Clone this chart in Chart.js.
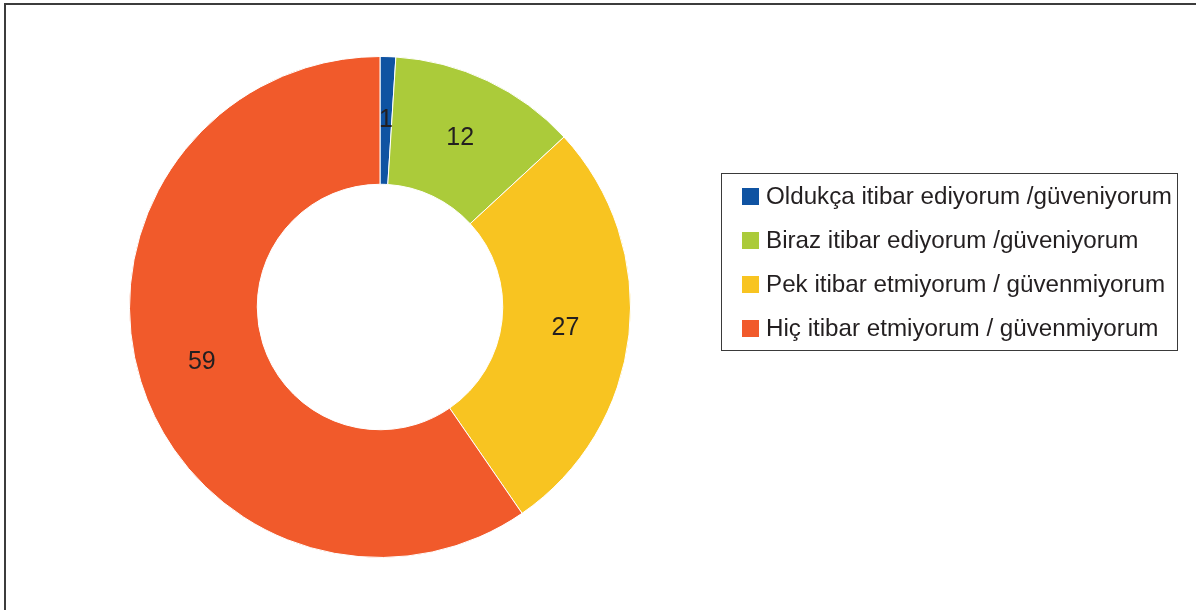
<!DOCTYPE html>
<html>
<head>
<meta charset="utf-8">
<script src="https://cdn.jsdelivr.net/npm/chart.js@4/dist/chart.umd.min.js"></script>
<style>
  html, body { margin: 0; padding: 0; background: #fff; }
  #wrap { position: relative; width: 1196px; height: 610px; overflow: hidden; }
  #frame { position: absolute; left: 4px; top: 3px; right: -10px; bottom: -10px;
           border-top: 2px solid #3c3c3c; border-left: 2px solid #3c3c3c; }
  #legend { position: absolute; left: 721px; top: 173px; width: 455px; height: 176px;
            border: 1.5px solid #3a3a3a; box-sizing: content-box;
            font-family: "Liberation Sans", Arial, sans-serif; font-size: 24.2px; color: #231f20; }
  #legend .item { position: absolute; left: 20px; display: flex; align-items: center; white-space: nowrap; }
  #legend .sw { width: 17px; height: 17px; margin-right: 7px; }
  canvas { position: absolute; left: 0; top: 0; }
</style>
</head>
<body>
<div id="wrap">
  <canvas id="pie" width="1196" height="610"></canvas>
  <div id="frame"></div>
  <div id="legend"></div>
</div>
<script>
const categories = [
    'Oldukça itibar ediyorum /güveniyorum',
    'Biraz itibar ediyorum /güveniyorum',
    'Pek itibar etmiyorum / güvenmiyorum',
    'Hiç itibar etmiyorum / güvenmiyorum',
];
const values = [1, 12, 27, 59];
const colors = ['#0f53a2', '#abcb3a', '#f8c421', '#f15a2b'];

// value labels in the middle of each ring segment
const sliceLabels = {
    id: 'sliceLabels',
    afterDatasetsDraw(chart) {
        const ctx = chart.ctx;
        const meta = chart.getDatasetMeta(0);
        ctx.save();
        ctx.font = '25px "Liberation Sans", Arial, sans-serif';
        ctx.fillStyle = '#231f20';
        ctx.textAlign = 'center';
        ctx.textBaseline = 'middle';
        meta.data.forEach((arc, i) => {
            const pos = arc.tooltipPosition();
            ctx.fillText(String(values[i]), pos.x, pos.y);
        });
        ctx.restore();
    },
};

new Chart(document.getElementById('pie').getContext('2d'), {
    type: 'doughnut',
    data: {
        labels: categories,
        datasets: [{
            data: values,
            backgroundColor: colors,
            borderColor: '#ffffff',
            borderWidth: 1,
        }],
    },
    options: {
        responsive: false,
        animation: false,
        cutout: '49%',
        layout: { padding: { left: 129, right: 565, top: 56, bottom: 52 } },
        plugins: {
            legend: { display: false },
            tooltip: { enabled: false },
        },
    },
    plugins: [sliceLabels],
});

const legend = document.getElementById('legend');
categories.forEach((label, i) => {
    const item = document.createElement('div');
    item.className = 'item';
    item.style.top = (8 + i * 44) + 'px';
    const sw = document.createElement('span');
    sw.className = 'sw';
    sw.style.background = colors[i];
    const txt = document.createElement('span');
    txt.textContent = label;
    item.appendChild(sw);
    item.appendChild(txt);
    legend.appendChild(item);
});
</script>
</body>
</html>
